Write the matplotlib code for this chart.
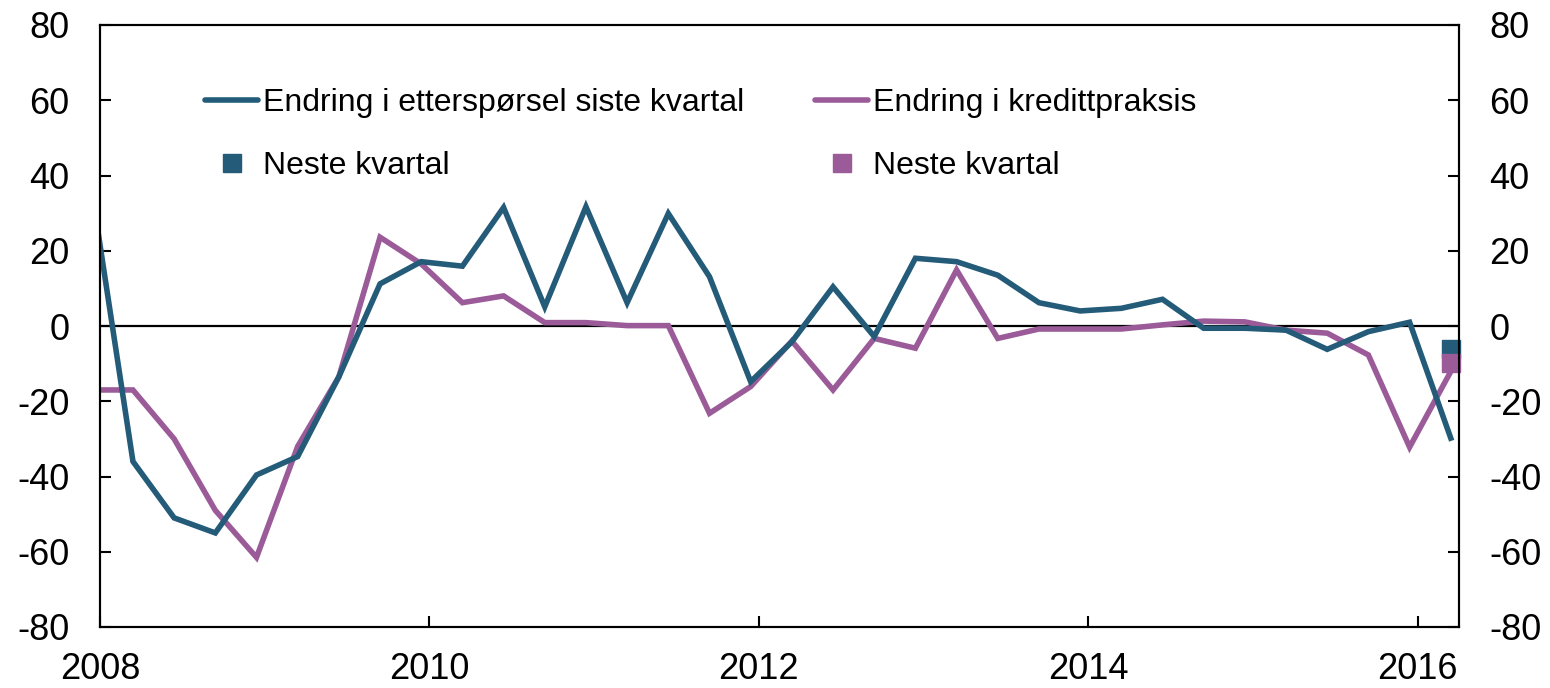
import matplotlib.pyplot as plt
import numpy as np
import pandas as pd

plt.rcParams['font.family'] = ['Liberation Sans', 'DejaVu Sans']
plt.rcParams['axes.unicode_minus'] = False

BLUE = '#235b79'
PINK = '#9a5b98'

quarters = pd.period_range('2007Q4', '2016Q1', freq='Q')
demand = [36, -36, -51, -55, -39.6, -34.7, -13.5, 11.2, 17.1, 15.9, 31.5, 5.1,
          31.7, 6.2, 29.9, 13.1, -14.8, -4.2, 10.4, -2.8, 18.0, 17.1, 13.5, 6.2,
          4.0, 4.7, 7.1, -0.6, -0.6, -1.1, -6.2, -1.5, 1.0, -29.8]
credit = [-17, -17, -30, -49, -61.5, -32, -13.5, 23.6, 16.5, 6.2, 8.0, 0.9,
          0.9, 0.1, 0.1, -23.2, -16.1, -4.0, -17.0, -3.3, -5.9, 14.9, -3.3, -0.8,
          -0.8, -0.8, 0.3, 1.3, 1.1, -1.1, -1.9, -7.7, -32.2, -12.1]
next_demand = -6.2
next_credit = -9.8
labels = ['Endring i etterspørsel siste kvartal', 'Endring i kredittpraksis',
          'Neste kvartal', 'Neste kvartal']
years = [2008, 2010, 2012, 2014, 2016]

# quarterly observations are placed mid last month of the quarter
x = quarters.year + (quarters.quarter - 1) * 0.25 + 0.2

fig = plt.figure(figsize=(15.5, 6.88), dpi=100)
ax = fig.add_axes([100/1550, 1-627/688, 1359/1550, 602/688])

ax.axhline(0, color='black', lw=1.6, zorder=1)
l1, = ax.plot(x, demand, color=BLUE, lw=4, solid_joinstyle='miter', zorder=3)
l2, = ax.plot(x, credit, color=PINK, lw=4, solid_joinstyle='miter', zorder=2)
s1, = ax.plot([x[-1]], [next_demand], 's', color=BLUE, ms=13.5, clip_on=False, zorder=4)
s2, = ax.plot([x[-1]], [next_credit], 's', color=PINK, ms=13.5, clip_on=False, zorder=5)

ax.set_xlim(2008, 2016.25)
ax.set_ylim(-80, 80)
ax.set_xticks(years)
ax.set_xticklabels([str(y) for y in years])
ax.set_yticks(np.arange(-80, 81, 20))

ax2 = ax.twinx()
ax2.set_ylim(-80, 80)
ax2.set_yticks(np.arange(-80, 81, 20))

for a in (ax, ax2):
    for sp in a.spines.values():
        sp.set_linewidth(1.5)
    a.tick_params(direction='in', length=8, width=1.5, labelsize=26, pad=22)
ax.tick_params(axis='x', top=False, pad=18)

leg_kw = dict(frameon=False, fontsize=23, handlelength=1.66, handletextpad=0.16,
              labelspacing=1.03, borderpad=0, borderaxespad=0, loc='upper left')
leg1 = ax2.legend([l1, s1], [labels[0], labels[2]],
                  bbox_to_anchor=(205/1550, 1-88/688), bbox_transform=fig.transFigure, **leg_kw)
ax2.add_artist(leg1)
ax2.legend([l2, s2], [labels[1], labels[3]],
           bbox_to_anchor=(815/1550, 1-88/688), bbox_transform=fig.transFigure, **leg_kw)
for lg in ax2.get_legend(), leg1:
    for h in lg.legend_handles:
        if h.get_marker() == 's':
            h.set_markersize(13)
        h.set_solid_capstyle('round')

fig.savefig('out.png', dpi=100)
